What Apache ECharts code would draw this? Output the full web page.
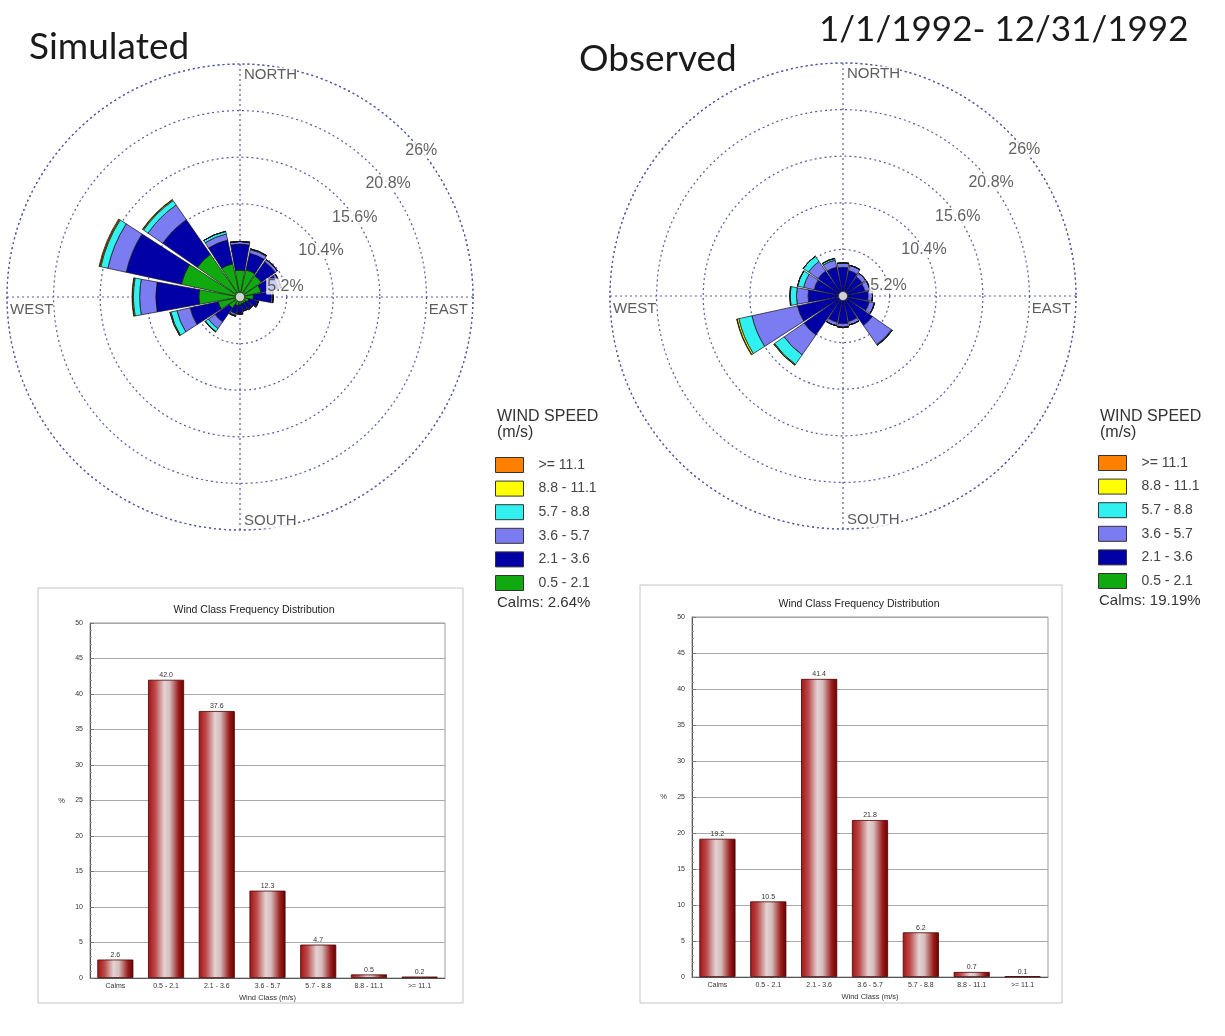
<!DOCTYPE html>
<html>
<head>
<meta charset="utf-8">
<script src="https://cdn.jsdelivr.net/npm/echarts@6/dist/echarts.min.js"></script>
<style>
html,body{margin:0;padding:0;background:#fff;}
#chart{width:1225px;height:1036px;}
</style>
</head>
<body>
<div id="chart"></div>
<script>
// ---------- DATA ----------
const dirs = ['N','NNE','NE','ENE','E','ESE','SE','SSE','S','SSW','SW','WSW','W','WNW','NW','NNW'];
const classNames = ['0.5 - 2.1','2.1 - 3.6','3.6 - 5.7','5.7 - 8.8','8.8 - 11.1','>= 11.1'];
const legendOrder = ['>= 11.1','8.8 - 11.1','5.7 - 8.8','3.6 - 5.7','2.1 - 3.6','0.5 - 2.1'];
const classColors = ['#10aa10','#0000a6','#7c7cf2','#30f0f0','#ffff00','#ff7f00'];

// Simulated wind rose (% per direction, per speed class)
const simGreen  = [3.0, 3.1, 2.9, 2.4, 1.5, 1.0, 0.8, 0.8, 0.9, 1.0, 1.5, 2.5, 4.6, 6.7, 5.8, 3.8];
const simBlue   = [2.9, 1.9, 1.9, 2.0, 2.0, 1.0, 0.8, 0.7, 0.9, 0.9, 1.9, 3.2, 4.8, 6.3, 4.7, 2.7];
const simPurple = [0.3, 0.4, 0.3, 0.3, 0.2, 0.1, 0.1, 0.1, 0.1, 0.2, 0.9, 1.5, 1.8, 2.1, 2.0, 0.7];
const simCyan   = [0.0, 0.1, 0.0, 0.0, 0.0, 0.0, 0.0, 0.0, 0.0, 0.1, 0.4, 0.7, 0.7, 0.8, 0.6, 0.3];
const simYellow = [0, 0, 0, 0, 0, 0, 0, 0, 0, 0, 0.05, 0.1, 0.1, 0.1, 0.1, 0];
const simOrange = [0, 0, 0, 0, 0, 0, 0, 0, 0, 0, 0, 0, 0.05, 0.1, 0.05, 0];

// Observed wind rose
const obsGreen  = [0.2, 0.2, 0.2, 0.2, 0.2, 0.2, 0.2, 0.2, 0.2, 0.2, 0.2, 0.2, 0.2, 0.2, 0.2, 0.2];
const obsBlue   = [3.0, 2.7, 2.4, 2.3, 2.6, 2.8, 3.8, 2.7, 2.9, 2.8, 5.1, 5.0, 3.7, 3.1, 3.2, 3.1];
const obsPurple = [0.5, 0.6, 0.5, 0.6, 0.5, 0.6, 2.6, 0.4, 0.4, 0.4, 2.7, 5.2, 1.3, 1.2, 1.3, 0.8];
const obsCyan   = [0, 0, 0, 0, 0, 0, 0.1, 0, 0, 0, 1.3, 1.5, 0.7, 0.7, 0.7, 0.2];
const obsYellow = [0, 0, 0, 0, 0, 0, 0, 0, 0, 0, 0.1, 0.2, 0.05, 0, 0, 0];
const obsOrange = [0, 0, 0, 0, 0, 0, 0, 0, 0, 0, 0, 0.05, 0, 0, 0, 0];

const ringTicks  = [5.2, 10.4, 15.6, 20.8, 26];
const ringLabels = ['5.2%', '10.4%', '15.6%', '20.8%', '26%'];
const compass = [
  {name:'NORTH', angle:0},
  {name:'EAST', angle:90},
  {name:'SOUTH', angle:180},
  {name:'WEST', angle:270}
];

// Frequency distribution bar charts
const barCats  = ['Calms','0.5 - 2.1','2.1 - 3.6','3.6 - 5.7','5.7 - 8.8','8.8 - 11.1','>= 11.1'];
const simFreq  = [2.6, 42.0, 37.6, 12.3, 4.7, 0.5, 0.2];
const obsFreq  = [19.2, 10.5, 41.4, 21.8, 6.2, 0.7, 0.1];
const simCalms = 'Calms: 2.64%';
const obsCalms = 'Calms: 19.19%';

// ---------- BUILD ----------
const chart = echarts.init(document.getElementById('chart'));
const R = 233, RMAX = 26;
const dotted = {color:'#5a5aa6', width:1.2, type:[2,3]};

const polar = [], angleAxis = [], radiusAxis = [], series = [];

function addRose(center, classData, stackName){
  const gi = polar.length;
  polar.push({center:center, radius:R});
  polar.push({center:center, radius:[0, R]});
  angleAxis.push({polarIndex:gi, type:'value', min:0, max:360, interval:90, startAngle:90, clockwise:true,
    axisLine:{show:true, lineStyle:dotted}, axisTick:{show:false}, axisLabel:{show:false},
    splitLine:{show:true, lineStyle:dotted}, z:0});
  radiusAxis.push({polarIndex:gi, type:'value', min:0, max:RMAX, interval:5.2,
    axisLine:{show:false}, axisTick:{show:false}, axisLabel:{show:false},
    splitLine:{show:true, lineStyle:dotted}, z:0});
  angleAxis.push({polarIndex:gi+1, type:'category', data:dirs, startAngle:90+11.25, clockwise:true,
    axisLine:{show:false}, axisTick:{show:false}, axisLabel:{show:false}, splitLine:{show:false}});
  radiusAxis.push({polarIndex:gi+1, type:'value', min:0, max:RMAX, show:false,
    axisLine:{show:false}, axisTick:{show:false}, axisLabel:{show:false}, splitLine:{show:false}});
  classData.forEach((arr, k) => {
    series.push({type:'bar', coordinateSystem:'polar', polarIndex:gi+1, name:classNames[k], stack:stackName,
      data:arr, barCategoryGap:'9%', z:2,
      itemStyle:{color:classColors[k], borderColor:'#111', borderWidth:0.7}});
  });
  // ring labels
  const c = 35;
  const ringData = ringTicks.map((v,i) => {
    const r = v / RMAX * R;
    const t = Math.sqrt((r*r - c*c/2) / 2);
    const dx = c/2 + t, dy = c/2 - t;
    const ang = (Math.atan2(dx, -dy) * 180 / Math.PI + 360) % 360;
    const rv = Math.sqrt(dx*dx + dy*dy) / R * RMAX;
    return {value:[rv, ang], label:{formatter:ringLabels[i]}};
  });
  series.push({type:'scatter', coordinateSystem:'polar', polarIndex:gi, symbolSize:1, z:5,
    itemStyle:{color:'rgba(0,0,0,0)'}, silent:true, data:ringData,
    label:{show:true, position:'inside', align:'center', verticalAlign:'middle',
      fontFamily:'Liberation Sans', fontSize:16, color:'#3a3a3a', backgroundColor:'#fff', padding:[0,1]}});
  // compass labels
  const offs = {NORTH:[4,11,'left'], SOUTH:[4,-9,'left'], WEST:[3,13,'left'], EAST:[-5,13,'right']};
  series.push({type:'scatter', coordinateSystem:'polar', polarIndex:gi, symbolSize:1, z:5,
    itemStyle:{color:'rgba(0,0,0,0)'}, silent:true,
    data: compass.map(d => ({value:[RMAX, d.angle],
      label:{formatter:d.name, offset:[offs[d.name][0], offs[d.name][1]], align:offs[d.name][2]}})),
    label:{show:true, position:'inside', verticalAlign:'middle',
      fontFamily:'Liberation Sans', fontSize:15, color:'#333', backgroundColor:'#fff'}});
  // center hole
  series.push({type:'scatter', coordinateSystem:'polar', polarIndex:gi, symbolSize:9, z:6, silent:true,
    itemStyle:{color:'#fff', borderColor:'#222', borderWidth:0.8}, data:[[0,0]]});
}

addRose([240,297], [simGreen, simBlue, simPurple, simCyan, simYellow, simOrange], 'sim');
addRose([843,296], [obsGreen, obsBlue, obsPurple, obsCyan, obsYellow, obsOrange], 'obs');

// bar charts
const grid = [
  {left:90, top:623, width:355, height:355, show:true, borderColor:'#999', borderWidth:1, backgroundColor:'#fff'},
  {left:692, top:617, width:356, height:360, show:true, borderColor:'#999', borderWidth:1, backgroundColor:'#fff'}
];
const xAxis = [], yAxis = [];
[0,1].forEach(i => {
  xAxis.push({gridIndex:i, type:'category', data:barCats,
    axisLine:{lineStyle:{color:'#555'}}, axisTick:{alignWithLabel:true, length:3, lineStyle:{color:'#555'}},
    axisLabel:{fontSize:7, color:'#333', interval:0, margin:5, fontFamily:'Liberation Sans'},
    name:'Wind Class (m/s)', nameLocation:'middle', nameGap:16,
    nameTextStyle:{fontSize:7.5, color:'#333', fontFamily:'Liberation Sans'}});
  yAxis.push({gridIndex:i, type:'value', min:0, max:50, interval:5,
    axisLine:{show:true, lineStyle:{color:'#555'}},
    axisTick:{show:true, inside:true, length:4, lineStyle:{color:'#777'}},
    minorTick:{show:true, splitNumber:5, length:2, lineStyle:{color:'#999'}},
    axisLabel:{fontSize:7, color:'#333', margin:7, fontFamily:'Liberation Sans'},
    splitLine:{show:true, lineStyle:{color:'#a8a8a8', width:1}},
    name:'%', nameLocation:'middle', nameGap:25, nameRotate:0,
    nameTextStyle:{fontSize:7.5, color:'#333'}});
});
const barGrad = new echarts.graphic.LinearGradient(0,0,1,0,[
  {offset:0, color:'#a51212'},
  {offset:0.2, color:'#bb4a4a'},
  {offset:0.45, color:'#e3d3d3'},
  {offset:0.6, color:'#d6bcbc'},
  {offset:0.85, color:'#9a1c1c'},
  {offset:1, color:'#660000'}
]);
[simFreq, obsFreq].forEach((arr,i) => {
  series.push({type:'bar', xAxisIndex:i, yAxisIndex:i, data:arr, barWidth:'71%',
    itemStyle:{color:barGrad, borderColor:'#4a0000', borderWidth:0.8},
    label:{show:true, position:'top', distance:1, fontSize:7, color:'#333',
      fontFamily:'Liberation Sans', formatter:p => p.value.toFixed(1)}});
});

const legendCommon = {orient:'vertical', data:legendOrder, icon:'rect', itemWidth:28, itemHeight:15, itemGap:7.6,
  selectedMode:false, padding:0,
  textStyle:{fontSize:14, color:'#444', fontFamily:'Liberation Sans', padding:[0,0,0,10]},
  itemStyle:{borderColor:'#333', borderWidth:1}};

const titleFont = {fontFamily:'Lato', fontSize:37, fontWeight:'normal', color:'#1a1a1a'};
const dateFont = {fontFamily:'Lato', fontSize:35, fontWeight:'normal', color:'#1a1a1a'};
const legTitle = {fontFamily:'Liberation Sans', fontSize:16, fontWeight:'normal', color:'#333', lineHeight:16};

chart.setOption({
  backgroundColor:'#fff',
  animation:false,
  title:[
    {text:'Simulated', left:29, top:29, padding:0, textStyle:titleFont},
    {text:'Observed', left:579, top:41, padding:0, textStyle:titleFont},
    {text:'1/1/1992- 12/31/1992', left:819, top:12, padding:0, textStyle:dateFont},
    {text:'WIND SPEED\n(m/s)', left:497, top:409, padding:0, textStyle:legTitle},
    {text:'WIND SPEED\n(m/s)', left:1100, top:409, padding:0, textStyle:legTitle},
    {text:simCalms, left:497, top:595, padding:0, textStyle:{fontFamily:'Liberation Sans', fontSize:15, fontWeight:'normal', color:'#333'}},
    {text:obsCalms, left:1099, top:593, padding:0, textStyle:{fontFamily:'Liberation Sans', fontSize:15, fontWeight:'normal', color:'#333'}},
    {text:'Wind Class Frequency Distribution', left:254, top:605, textAlign:'center', padding:0,
      textStyle:{fontFamily:'Liberation Sans', fontSize:10.5, fontWeight:'normal', color:'#222'}},
    {text:'Wind Class Frequency Distribution', left:859, top:599, textAlign:'center', padding:0,
      textStyle:{fontFamily:'Liberation Sans', fontSize:10.5, fontWeight:'normal', color:'#222'}}
  ],
  legend:[
    Object.assign({left:495, top:457}, legendCommon),
    Object.assign({left:1098, top:455}, legendCommon)
  ],
  graphic:[
    {type:'rect', shape:{x:38, y:588, width:425, height:415}, style:{fill:'none', stroke:'#c4c4c4', lineWidth:1}, z:-1},
    {type:'rect', shape:{x:640, y:585, width:422, height:418}, style:{fill:'none', stroke:'#c4c4c4', lineWidth:1}, z:-1}
  ],
  polar:polar,
  angleAxis:angleAxis,
  radiusAxis:radiusAxis,
  grid:grid,
  xAxis:xAxis,
  yAxis:yAxis,
  series:series
});
</script>
</body>
</html>
